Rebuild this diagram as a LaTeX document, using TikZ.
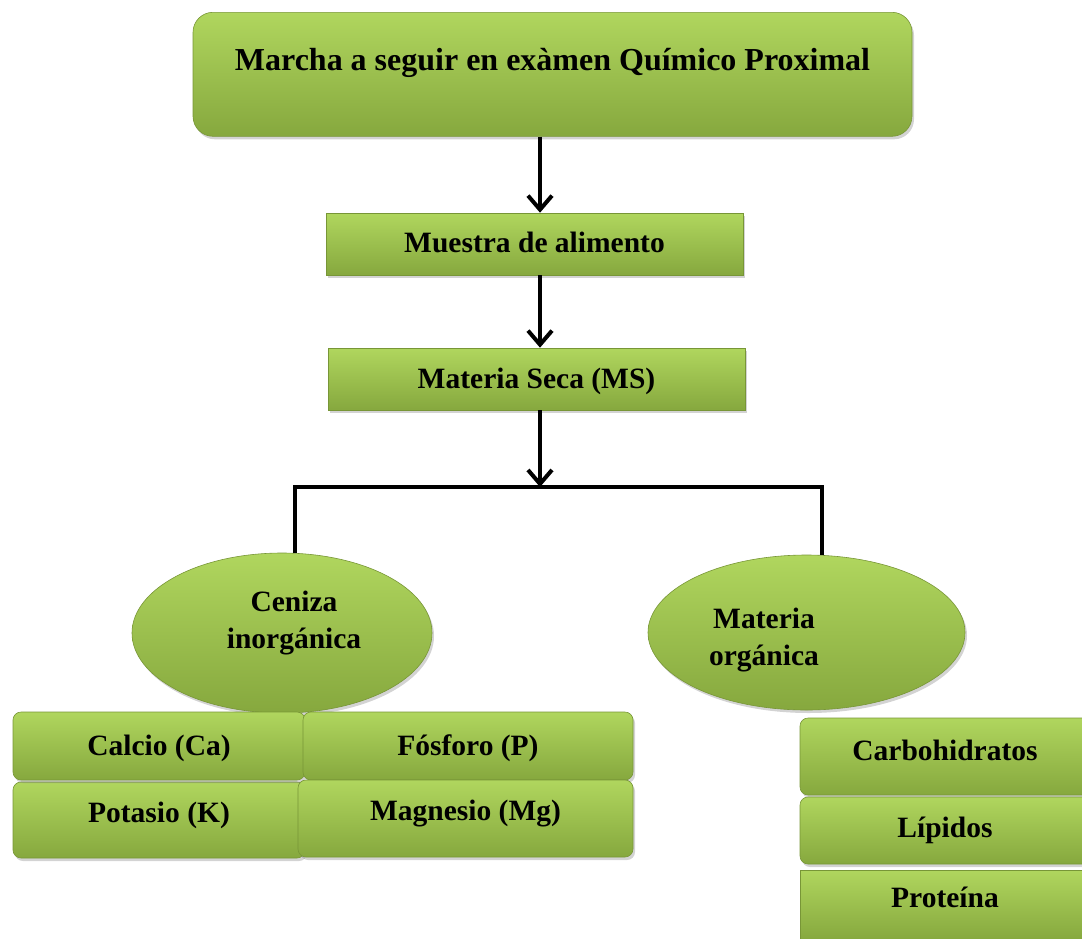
\documentclass[tikz,border=0pt]{standalone}
\usepackage{fontspec}
\setmainfont{Liberation Serif}
\usetikzlibrary{shadows,arrows.meta,shapes.geometric}
\definecolor{gtop}{RGB}{176,214,94}
\definecolor{gbot}{RGB}{134,168,62}
\definecolor{gedge}{RGB}{120,150,55}
\tikzset{
  gbox/.style={draw=gedge, line width=0.6pt, top color=gtop, bottom color=gbot,
    drop shadow={opacity=0.35, shadow xshift=2pt, shadow yshift=-3pt},
    inner sep=0pt, font=\bfseries\fontsize{29.5}{34}\selectfont},
  tb/.style={text height=20pt, text depth=#1},
  gell/.style={gbox, ellipse},
  txt/.style={font=\bfseries\fontsize{29.5}{37}\selectfont, align=center, inner sep=0pt},
  conn/.style={line width=4pt, black},
  arr/.style={conn, -{Straight Barb[length=14pt,width=24pt,line width=4pt]}}
}
\begin{document}
\begin{tikzpicture}[x=1pt,y=-1pt]
\useasboundingbox (0,0) rectangle (1082,938);
% top
\node[gbox, rounded corners=20pt, anchor=north, minimum width=719pt,
  text height=58pt, text depth=66pt, font=\bfseries\fontsize{32}{36}\selectfont]
  (top) at (552.5,12) {Marcha a seguir en exàmen Químico Proximal};
\node[gbox, tb=4pt, minimum width=417pt, minimum height=62pt] (mu) at (534.5,244) {Muestra de alimento};
\node[gbox, tb=2pt, minimum width=417pt, minimum height=62pt] (ms) at (536.5,379) {Materia Seca (MS)};
\coordinate (br) at (540,487);
% ellipses
\node[gell, minimum width=300pt, minimum height=160pt] (ci) at (282,633) {};
\node[txt] (cit) at (294,623) {Ceniza\\inorgánica};
\node[gell, minimum width=317pt, minimum height=155pt] (mo) at (806.5,632.5) {};
\node[txt] (mot) at (764,640) {Materia\\orgánica};
% minerals
\node[gbox, tb=16pt, rounded corners=8pt, minimum width=292pt, minimum height=76pt] (k) at (159,820) {Potasio (K)};
\node[gbox, tb=2pt, rounded corners=8pt, minimum width=292pt, minimum height=68pt] (ca) at (159,746) {Calcio (Ca)};
\node[gbox, tb=2pt, rounded corners=8pt, minimum width=330pt, minimum height=68pt] (p) at (468,746) {Fósforo (P)};
\node[gbox, tb=17pt, rounded corners=8pt, minimum width=335pt, minimum height=77pt] (mg) at (465.5,818.5) {Magnesio (Mg)};
% organic
\node[gbox, tb=13pt, rounded corners=8pt, minimum width=290pt, minimum height=77pt] (cb) at (945,756.5) {Carbohidratos};
\node[gbox, tb=7pt, rounded corners=8pt, minimum width=290pt, minimum height=67pt] (li) at (945,830.5) {Lípidos};
\node[gbox, tb=16pt, minimum width=290pt, minimum height=70pt] (pr) at (945,905) {Proteína};
% connectors
\draw[arr] (top.south -| 540,0) -- (mu.north -| 540,0);
\draw[arr] (mu.south -| 540,0) -- (ms.north -| 540,0);
\draw[arr] (ms.south -| 540,0) -- (br);
\draw[conn] ([xshift=13pt]ci.north) |- (br) -| ([xshift=15.5pt]mo.north);
\end{tikzpicture}
\end{document}
